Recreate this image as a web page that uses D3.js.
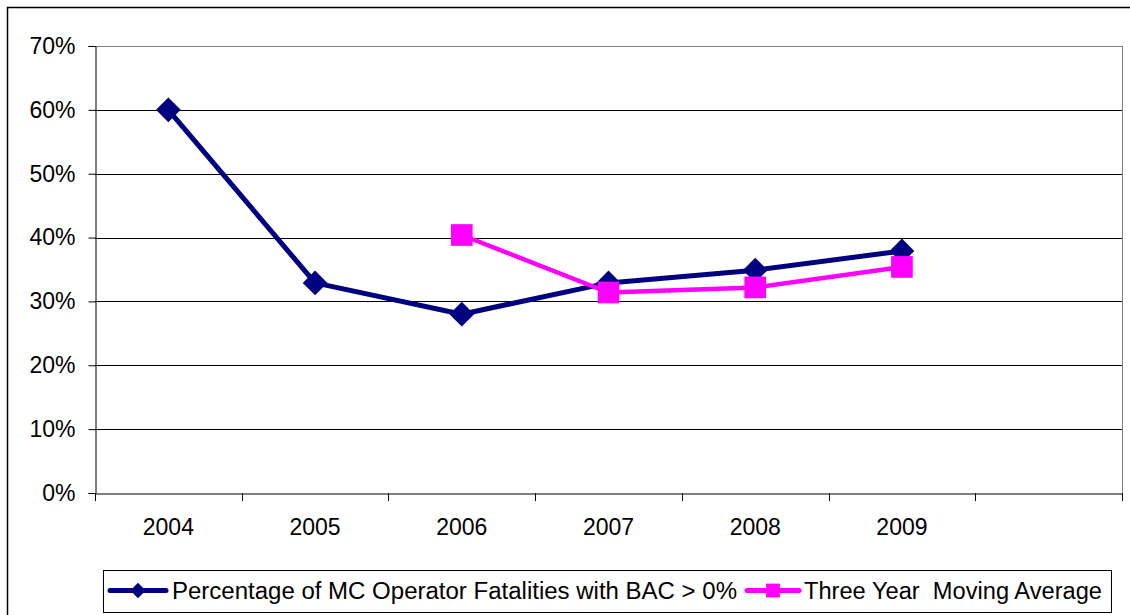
<!DOCTYPE html>
<html>
<head>
<meta charset="utf-8">
<script src="https://cdn.jsdelivr.net/npm/d3@7"></script>
<style>
  body{margin:0;background:#fff}
  svg{display:block;font-family:Arial,"Liberation Sans",sans-serif}
</style>
</head>
<body>
<svg id="chart"></svg>
<script>
const width = 1130
const height = 615
const margin = {top:46,right:8,bottom:122,left:95}
const innerWidth = width - margin.left - margin.right
const innerHeight = height - margin.top - margin.bottom

// data
const categories = ['2004','2005','2006','2007','2008','2009','']
const bacYears = ['2004','2005','2006','2007','2008','2009']
const bacValues = [0.60,0.329,0.280,0.329,0.349,0.379]
const avgYears = ['2006','2007','2008','2009']
const avgValues = [0.404,0.314,0.322,0.354]
const yTicks = [0,0.1,0.2,0.3,0.4,0.5,0.6,0.7]
const seriesNames = ['Percentage of MC Operator Fatalities with BAC > 0%','Three Year  Moving Average']

const navy = '#000080'
const pink = '#ff00ff'
const fontSize = 23

const svg = d3.select('#chart').attr('width',width).attr('height',height)

// outer frame (left + top only visible)
svg.append('path')
  .attr('d',`M7.5,${height} V7.5 H${width}`)
  .attr('fill','none').attr('stroke','#000').attr('stroke-width',1.5)

const x = d3.scaleBand().domain(categories).range([0,innerWidth]).padding(0)
const y = d3.scaleLinear().domain([0,0.7]).range([innerHeight,0])

const g = svg.append('g').attr('transform',`translate(${margin.left},${margin.top})`)

// gridlines
g.append('g').selectAll('line').data(yTicks.slice(1))
  .enter().append('line')
  .attr('x1',0).attr('x2',innerWidth)
  .attr('y1',d=>Math.round(y(d))+0.5).attr('y2',d=>Math.round(y(d))+0.5)
  .attr('stroke',d=>d===0.7?'#808080':'#000').attr('stroke-width',1)

// right border of plot
g.append('line')
  .attr('x1',innerWidth+0.5).attr('x2',innerWidth+0.5)
  .attr('y1',0).attr('y2',innerHeight)
  .attr('stroke','#808080')

// y axis
const yAxis = d3.axisLeft(y).tickValues(yTicks).tickFormat(d3.format('.0%')).tickSize(7).tickPadding(13)
const yG = g.append('g').attr('transform','translate(0.5,0)').call(yAxis)
yG.select('.domain').attr('stroke','#000')
yG.selectAll('.tick line').attr('stroke','#000')
yG.selectAll('text').attr('font-size',fontSize).attr('fill','#000').attr('font-family','Arial,"Liberation Sans",sans-serif')

// x axis: labels centred in bands, ticks on band edges
const xAxis = d3.axisBottom(x).tickSize(0).tickPadding(25)
const xG = g.append('g').attr('transform',`translate(0,${innerHeight+0.5})`).call(xAxis)
xG.select('.domain').attr('stroke','#000')
xG.selectAll('text').attr('font-size',fontSize).attr('fill','#000').attr('font-family','Arial,"Liberation Sans",sans-serif')
g.append('g').selectAll('line').data(categories.concat(['end']))
  .enter().append('line')
  .attr('x1',d=>Math.round(d==='end'?innerWidth:x(d))+0.5)
  .attr('x2',d=>Math.round(d==='end'?innerWidth:x(d))+0.5)
  .attr('y1',innerHeight).attr('y2',innerHeight+8)
  .attr('stroke','#000')

const cx = d=>x(d)+x.bandwidth()/2

// lines
const bacData = bacYears.map((c,i)=>({c,v:bacValues[i]}))
const avgData = avgYears.map((c,i)=>({c,v:avgValues[i]}))
const line = d3.line().x(d=>cx(d.c)).y(d=>y(d.v))

g.append('path').attr('d',line(bacData))
  .attr('fill','none').attr('stroke',navy).attr('stroke-width',5).attr('stroke-linejoin','round')
g.append('path').attr('d',line(avgData))
  .attr('fill','none').attr('stroke',pink).attr('stroke-width',4.5).attr('stroke-linejoin','round')

const diamond = d3.symbol().type(d3.symbolDiamond2).size(390)
const square = d3.symbol().type(d3.symbolSquare).size(470)

g.append('g').selectAll('path').data(bacData).enter().append('path')
  .attr('d',diamond)
  .attr('transform',d=>`translate(${cx(d.c)},${y(d.v)})`)
  .attr('fill',navy)
g.append('g').selectAll('path').data(avgData).enter().append('path')
  .attr('d',square)
  .attr('transform',d=>`translate(${cx(d.c)},${y(d.v)})`)
  .attr('fill',pink)

// legend
const lg = svg.append('g')
lg.append('rect').attr('x',103.5).attr('y',570.5).attr('width',1008).attr('height',42)
  .attr('fill','#fff').attr('stroke','#000').attr('stroke-width',1)

const legendItems = [
  {name:seriesNames[0],color:navy,x0:110,x1:166,sym:d3.symbol().type(d3.symbolDiamond2).size(150),tx:172,tw:565},
  {name:seriesNames[1],color:pink,x0:747,x1:799,sym:d3.symbol().type(d3.symbolSquare).size(190),tx:804,tw:298}
]
legendItems.forEach(it=>{
  lg.append('line').attr('x1',it.x0).attr('x2',it.x1).attr('y1',590.5).attr('y2',590.5)
    .attr('stroke',it.color).attr('stroke-width',5).attr('stroke-linecap','round')
  lg.append('path').attr('d',it.sym).attr('transform',`translate(${(it.x0+it.x1)/2},590.5)`).attr('fill',it.color)
  lg.append('text').text(it.name).attr('x',it.tx).attr('y',599)
    .attr('font-size',fontSize).attr('fill','#000').style('white-space','pre')
    .attr('textLength',it.tw).attr('lengthAdjust','spacingAndGlyphs')
})
</script>
</body>
</html>
